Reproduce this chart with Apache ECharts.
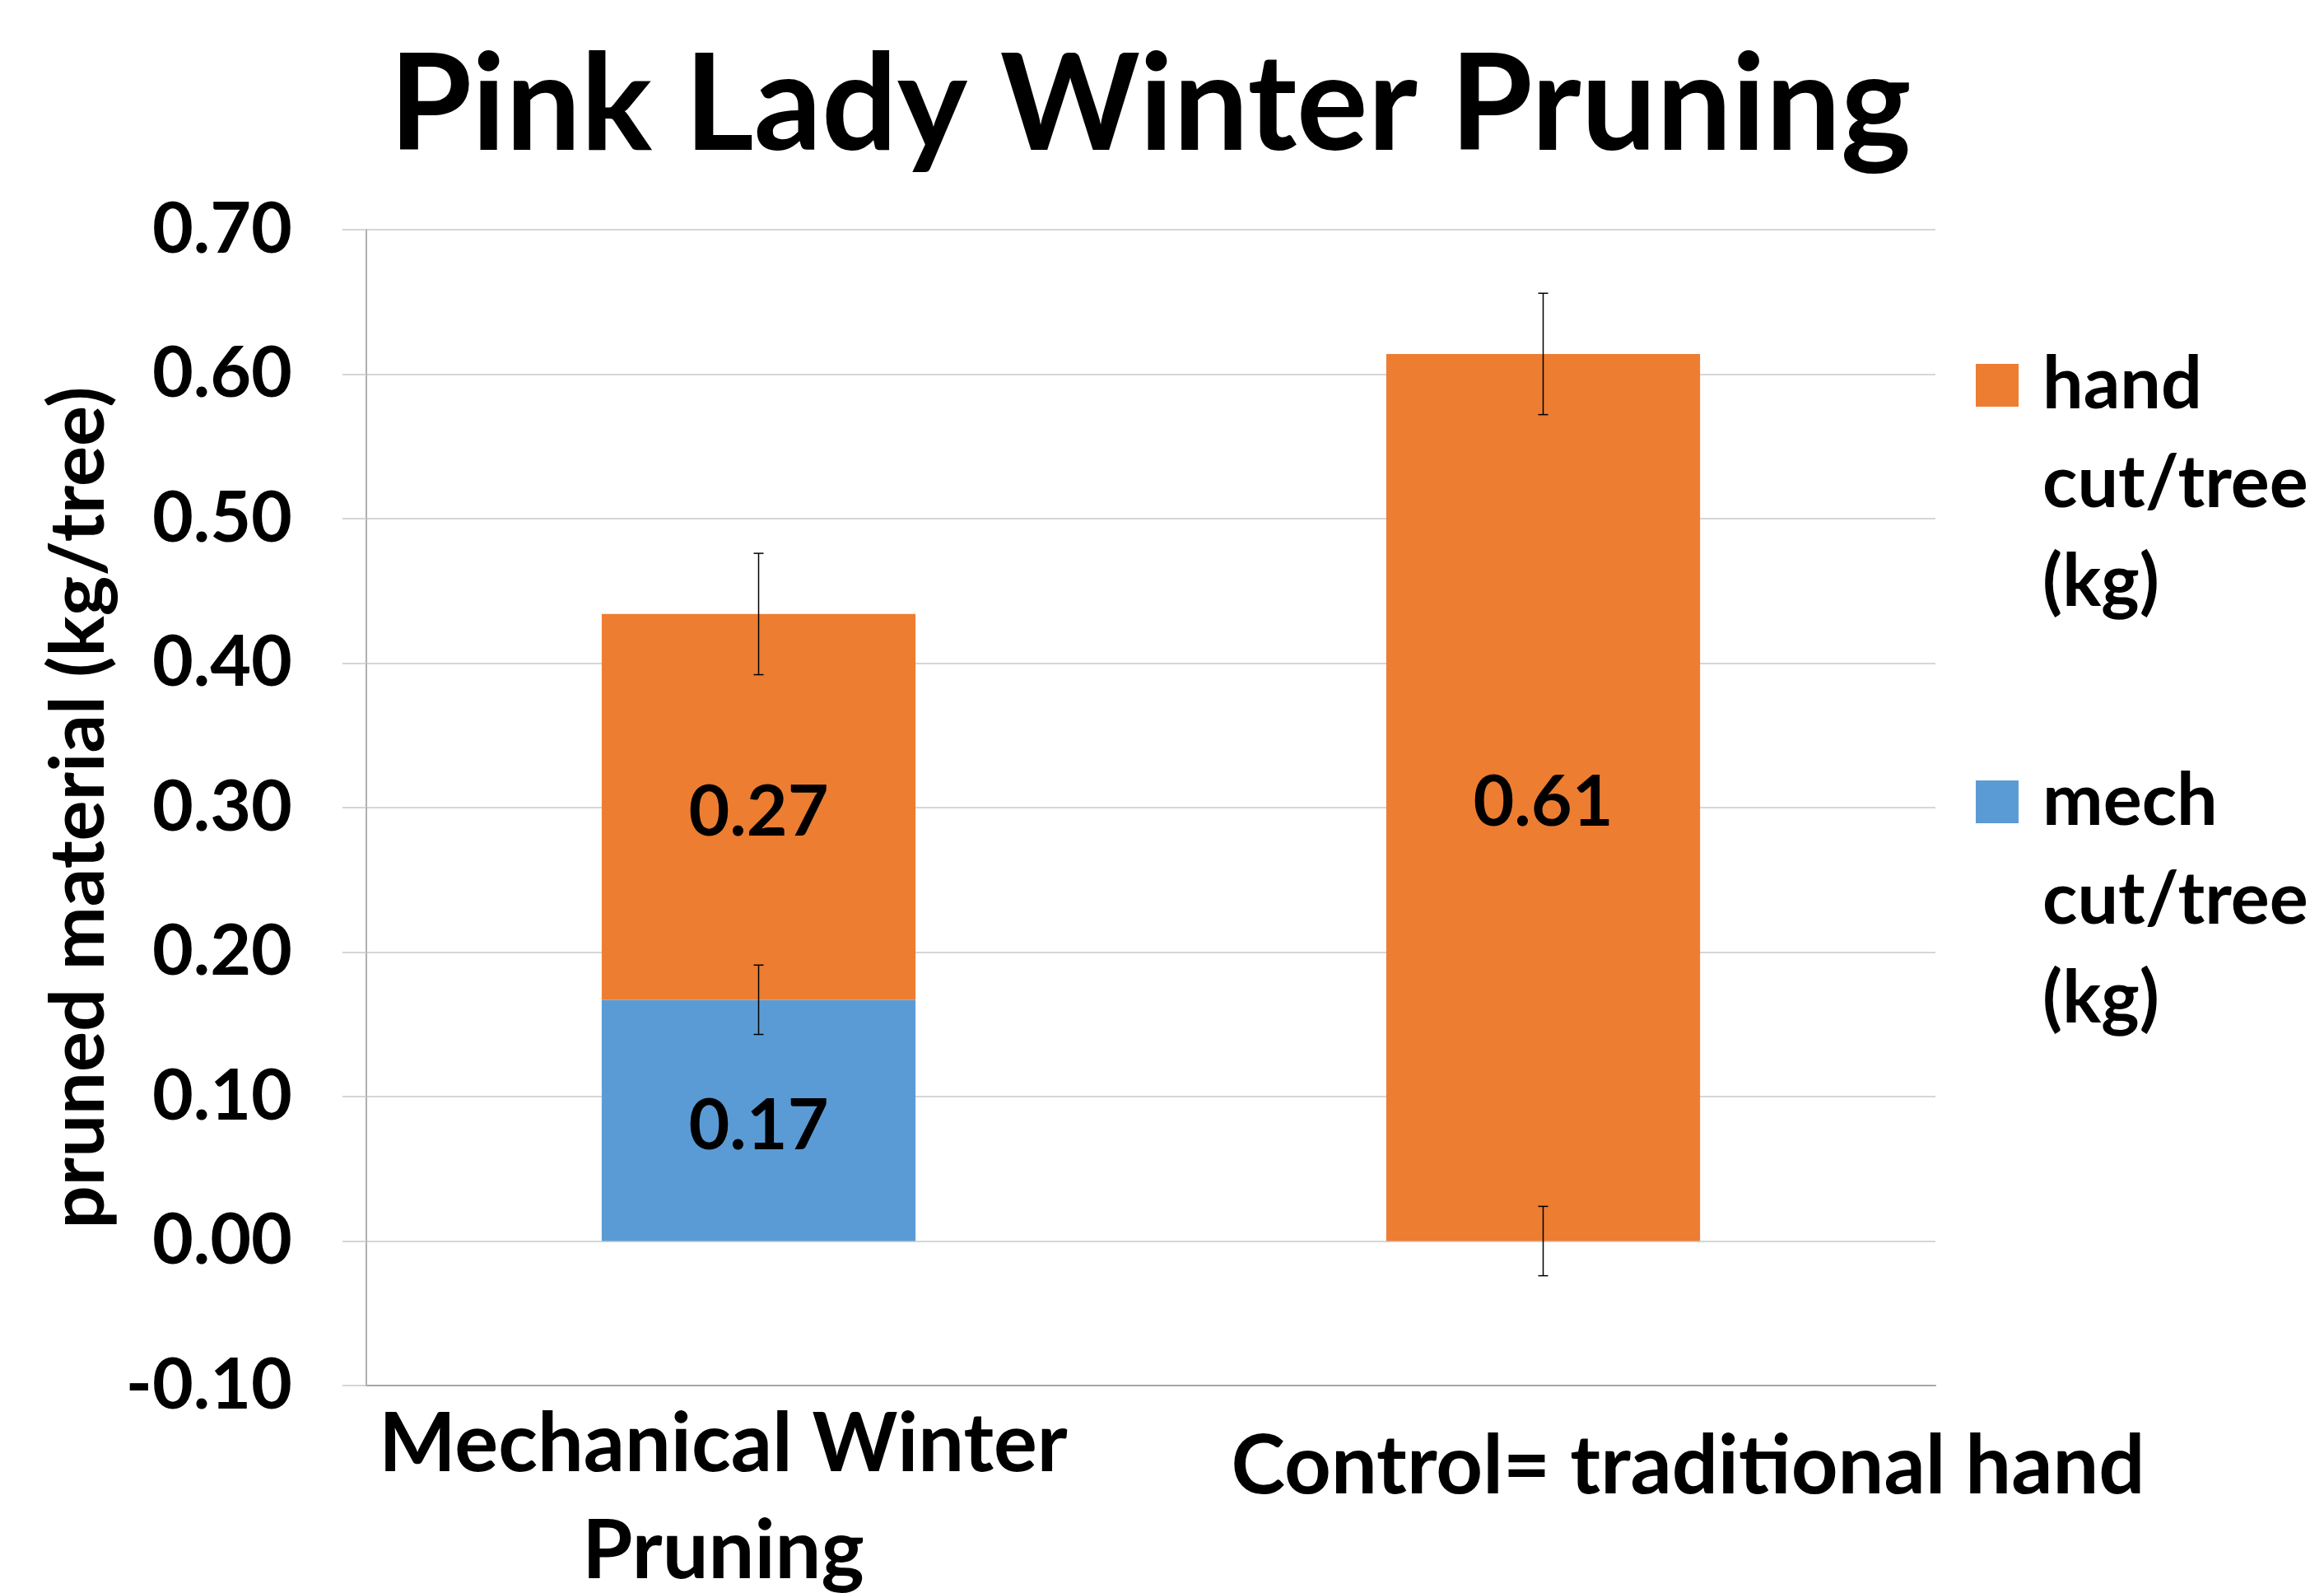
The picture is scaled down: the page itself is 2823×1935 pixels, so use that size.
<!DOCTYPE html>
<html>
<head>
<meta charset="utf-8">
<script src="https://cdn.jsdelivr.net/npm/echarts@6/dist/echarts.min.js"></script>
<style>
  html, body { margin: 0; padding: 0; background: #fff; }
  #chart_box { width: 2823px; height: 1935px; }
</style>
</head>
<body>
<div id="chart_box"></div>
<script>
var categories = ['Mechanical Winter\nPruning', 'Control= traditional hand'];
var mechValues = [0.167, 0];
var handValues = [0.267, 0.614];
var mechErr = [0.024, 0.024];
var handErr = [0.042, 0.042];
var yTicks = { min: -0.1, max: 0.7, interval: 0.1 };

var FONT = 'Lato';

// error bars sit on the top of each stacked segment
var errData = [];
for (var i = 0; i < categories.length; i++) {
    var m = mechValues[i], t = mechValues[i] + handValues[i];
    errData.push([i, m - mechErr[i], m + mechErr[i]]);
    errData.push([i, t - handErr[i], t + handErr[i]]);
}

var chart = echarts.init(document.getElementById('chart_box'));

var legendText = {
    fontFamily: FONT, fontWeight: 'bold', fontSize: 88, color: '#000',
    lineHeight: 120, padding: [0, 0, 0, 24]
};
// two blank lines on top so the square lines up with the first word
function legendFmt(n) {
    return '\n\n' + n.replace(' ', '\n').replace(' ', '\n');
}

var barLabel = {
    show: true, position: 'inside', offset: [0, 7],
    fontFamily: FONT, fontWeight: 'bold', fontSize: 86, color: '#000',
    formatter: function (p) { return p.value ? p.value.toFixed(2) : ''; }
};

chart.setOption({
    backgroundColor: '#fff',
    animation: false,
    title: {
        text: 'Pink Lady Winter Pruning',
        left: 468,
        top: 44,
        textStyle: { fontFamily: FONT, fontWeight: 'bold', fontSize: 162, color: '#000' }
    },
    legend: [{
        data: ['hand cut/tree (kg)'],
        left: 2400, top: 168, padding: 0,
        icon: 'rect', itemWidth: 52, itemHeight: 52,
        formatter: legendFmt,
        textStyle: legendText
    }, {
        data: ['mech cut/tree (kg)'],
        left: 2400, top: 674, padding: 0,
        icon: 'rect', itemWidth: 52, itemHeight: 52,
        formatter: legendFmt,
        textStyle: legendText
    }],
    grid: { left: 445, right: 472, top: 279, bottom: 252, outerBoundsMode: 'none' },
    xAxis: {
        type: 'category',
        data: [
            { value: categories[0], textStyle: { padding: [0, 86, 0, 0] } },
            { value: categories[1], textStyle: { padding: [27, 0, 0, 352] } }
        ],
        axisLine: { onZero: false, lineStyle: { color: '#a6a6a6', width: 2 } },
        axisTick: { show: false },
        axisLabel: {
            interval: 0, margin: 7, verticalAlign: 'top',
            fontFamily: FONT, fontWeight: 'bold', fontSize: 99, color: '#000', lineHeight: 130
        }
    },
    yAxis: {
        type: 'value',
        min: yTicks.min, max: yTicks.max, interval: yTicks.interval,
        name: 'pruned material (kg/tree)',
        nameLocation: 'middle',
        nameGap: 300,
        nameTextStyle: { fontFamily: FONT, fontWeight: 'bold', fontSize: 92, color: '#000' },
        axisLine: { show: true, lineStyle: { color: '#b0b0b0', width: 2 } },
        axisTick: { show: true, length: 29, lineStyle: { color: '#c8c8c8', width: 1.5 } },
        splitLine: { lineStyle: { color: '#c8c8c8', width: 1.5 } },
        axisLabel: {
            margin: 90,
            fontFamily: FONT, fontWeight: 'bold', fontSize: 86, color: '#000',
            formatter: function (v) { return v.toFixed(2); }
        }
    },
    series: [{
        name: 'mech cut/tree (kg)',
        type: 'bar', stack: 'total', barWidth: '40%',
        itemStyle: { color: '#5b9bd5' },
        label: barLabel,
        data: mechValues
    }, {
        name: 'hand cut/tree (kg)',
        type: 'bar', stack: 'total', barWidth: '40%',
        itemStyle: { color: '#ed7d31' },
        label: barLabel,
        data: handValues
    }, {
        name: 'error',
        type: 'custom',
        z: 10,
        encode: { x: 0, y: [1, 2] },
        renderItem: function (params, api) {
            var x = api.value(0);
            var lo = api.coord([x, api.value(1)]);
            var hi = api.coord([x, api.value(2)]);
            var cap = 6;
            var st = { stroke: '#000', lineWidth: 1.5 };
            return {
                type: 'group',
                children: [
                    { type: 'line', shape: { x1: hi[0], y1: hi[1], x2: lo[0], y2: lo[1] }, style: st },
                    { type: 'line', shape: { x1: hi[0] - cap, y1: hi[1], x2: hi[0] + cap, y2: hi[1] }, style: st },
                    { type: 'line', shape: { x1: lo[0] - cap, y1: lo[1], x2: lo[0] + cap, y2: lo[1] }, style: st }
                ]
            };
        },
        data: errData
    }]
});

window.onresize = function () {
    chart.resize();
};
</script>
</body>
</html>
